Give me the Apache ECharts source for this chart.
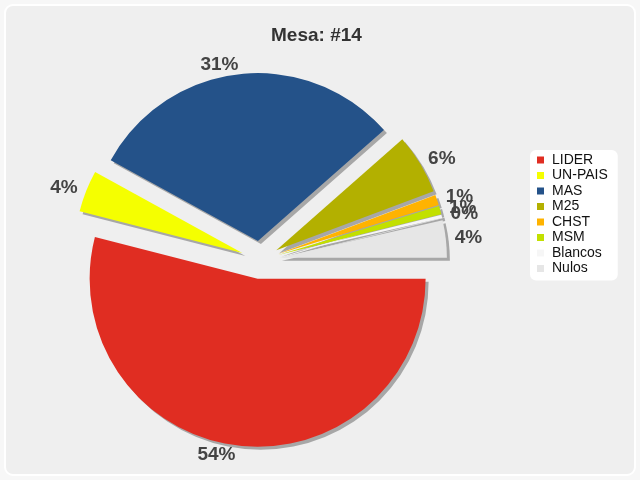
<!DOCTYPE html>
<html><head><meta charset="utf-8">
<script src="https://cdn.jsdelivr.net/npm/echarts@6/dist/echarts.min.js"></script>
<style>html,body{margin:0;padding:0;background:#f7f7f7;}#c{width:640px;height:480px;}</style>
</head><body><div id="c"></div>
<script>
const titleText = 'Mesa: #14';
const categories = ['LIDER','UN-PAIS','MAS','M25','CHST','MSM','Blancos','Nulos'];
const values = [54.0, 4.0, 30.5, 5.8, 1.0, 0.8, 0.3, 3.6];
const colors = ['#e02d22','#f5ff00','#245289','#b3b000','#ffb300','#c2e000','#f6f6f6','#e6e6e6'];

const chart = echarts.init(document.getElementById('c'), null, {renderer:'canvas'});
chart.setOption({
  animation: false,
  graphic: [{type:'rect', z:-10, silent:true, shape:{x:5,y:5,width:630,height:470,r:8}, style:{fill:'#efefef', stroke:'#ffffff', lineWidth:2}}],
  title: {text: titleText, left: 266, top: 21, textStyle:{fontFamily:'Liberation Sans', fontSize:19, fontWeight:'bold', color:'#333'}},
  legend: {
    orient:'vertical', left: 530, top: 150, backgroundColor:'#ffffff', borderRadius:6,
    padding:[3,10,5,7], icon:'rect', itemWidth:7, itemHeight:7, itemGap:1.5, selectedMode:false,
    textStyle:{fontFamily:'Liberation Sans', fontSize:14, color:'#111', lineHeight:14, padding:[0,0,0,3]},
    data: categories
  },
  series: [{
    type:'pie', center:[260,260], radius:168, startAngle:0, clockwise:true,
    selectedMode:'multiple', selectedOffset:19, avoidLabelOverlap:false, minShowLabelAngle:0,
    labelLayout:{hideOverlap:false},
    itemStyle:{shadowBlur:0, shadowOffsetX:3, shadowOffsetY:3, shadowColor:'rgba(0,0,0,0.3)'},
    label:{show:true, position:'outside', fontFamily:'Liberation Sans', fontSize:19, fontWeight:'bold', color:'#444',
      distanceToLabelLine:0, overflow:'none',
      formatter: p => Math.round(p.percent) + '%'},
    labelLine:{show:false, length:9, length2:0},
    emphasis:{disabled:true},
    data: categories.map((n,i)=>({name:n, value:values[i], selected:true, itemStyle:{color:colors[i]}}))
  }]
});
</script></body></html>
